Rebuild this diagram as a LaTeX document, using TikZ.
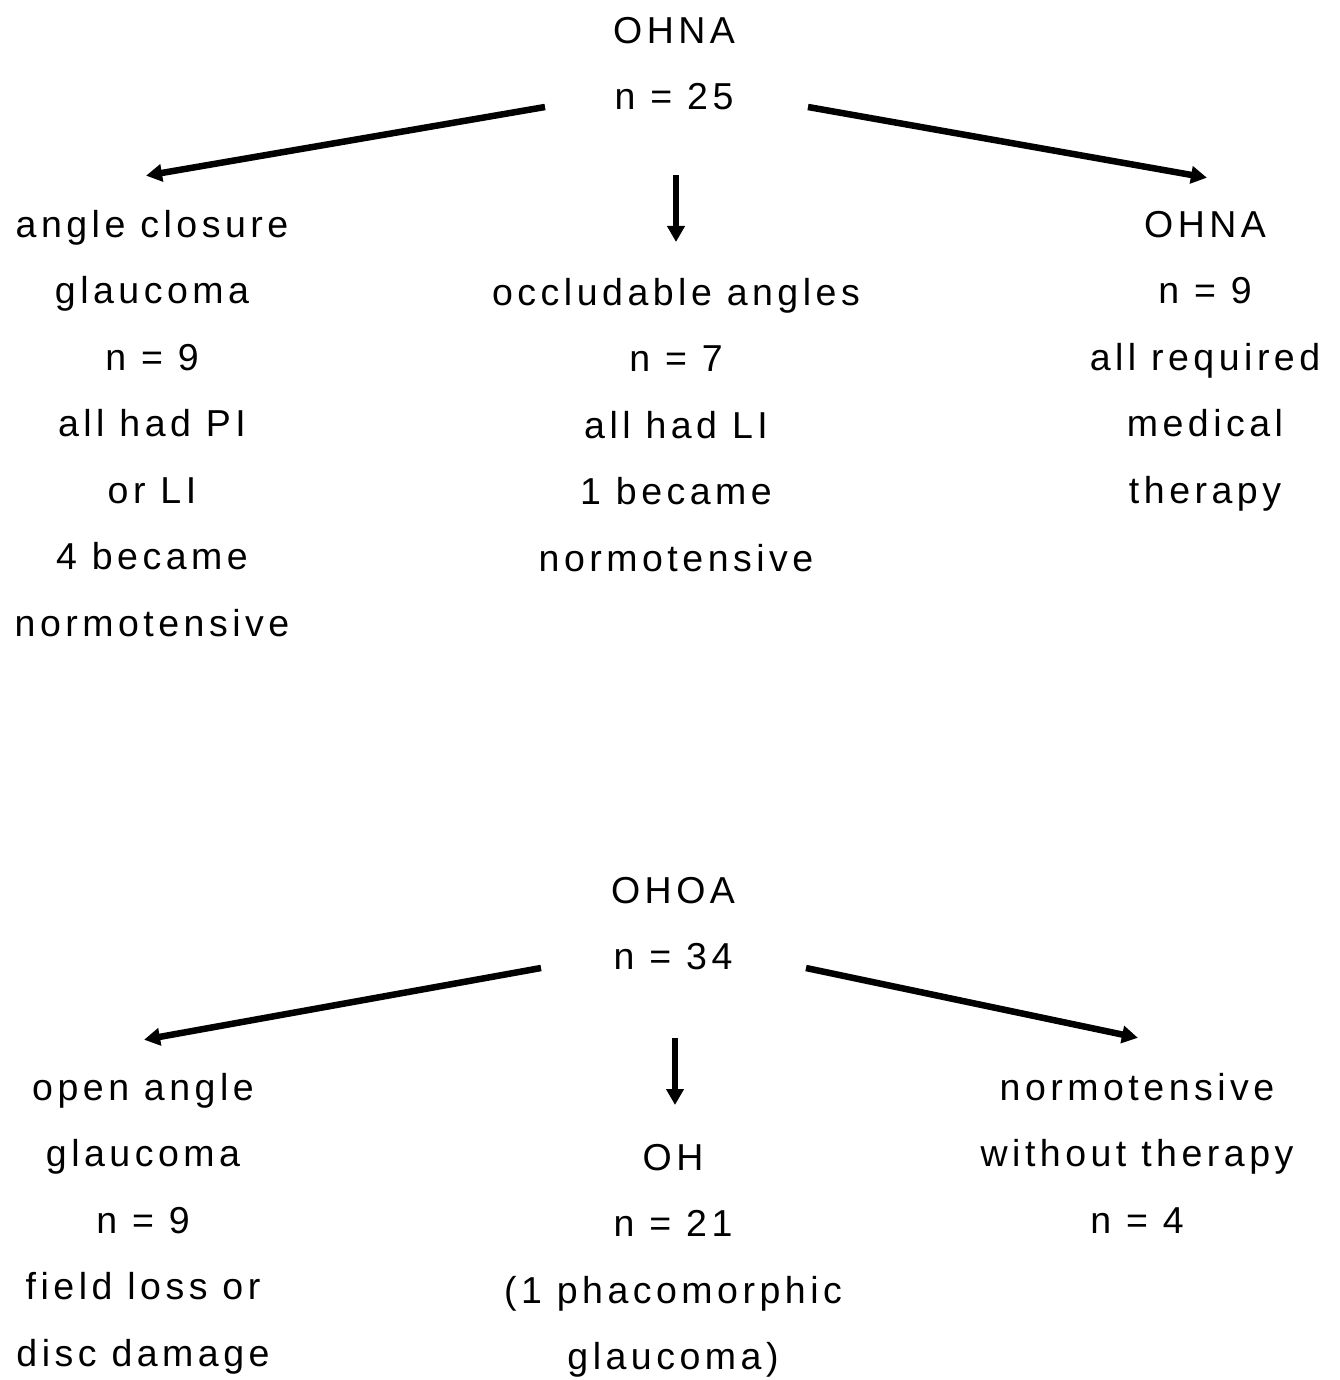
\documentclass[tikz,border=0pt]{standalone}
\usepackage{fontspec}
\setmainfont{Liberation Sans}[LetterSpace=12]
\usetikzlibrary{arrows.meta}
\newcommand{\fs}{\rule{0pt}{40pt}}
\tikzset{
  blk/.style={align=center, anchor=north, inner sep=0pt,
    font=\fontsize{37.5pt}{66.5pt}\selectfont},
  arr/.style={line width=6.5pt, -{Triangle[length=16pt,width=17pt]}, shorten >=-4pt}
}
\begin{document}
\begin{tikzpicture}[x=1pt,y=-1pt]
\useasboundingbox (0,0) rectangle (1339,1380);
% top tree
\node[blk] (ohna) at (674,43-40) {\fs OHNA\\n = 25};
\node[blk] (acg) at (152,237-40) {\fs angle closure\\glaucoma\\n = 9\\all had PI\\or LI\\4 became\\normotensive};
\node[blk] (occ) at (676,305-40) {\fs occludable angles\\n = 7\\all had LI\\1 became\\normotensive};
\node[blk] (ohna2) at (1205,237-40) {\fs OHNA\\n = 9\\all required\\medical\\therapy};
\coordinate (a1s) at (545,107);
\coordinate (a1e) at (150,175);
\coordinate (a2s) at (676,175);
\coordinate (a2e) at (676,238);
\coordinate (a3s) at (808,107);
\coordinate (a3e) at (1203,177);
\draw[arr] (a1s) -- (a1e);
\draw[arr] (a2s) -- (a2e);
\draw[arr] (a3s) -- (a3e);
% bottom tree
\node[blk] (ohoa) at (673,903-40) {\fs OHOA\\n = 34};
\node[blk] (oag) at (143,1100-40) {\fs open angle\\glaucoma\\n = 9\\field loss or\\disc damage};
\node[blk] (oh) at (673,1170-40) {\fs OH\\n = 21\\(1 phacomorphic\\glaucoma)};
\node[blk] (nwt) at (1137,1100-40) {\fs normotensive\\without therapy\\n = 4};
\coordinate (b1s) at (541,968);
\coordinate (b1e) at (148,1039);
\coordinate (b2s) at (675,1038);
\coordinate (b2e) at (675,1101);
\coordinate (b3s) at (806,968);
\coordinate (b3e) at (1134,1037);
\draw[arr] (b1s) -- (b1e);
\draw[arr] (b2s) -- (b2e);
\draw[arr] (b3s) -- (b3e);
\end{tikzpicture}
\end{document}
